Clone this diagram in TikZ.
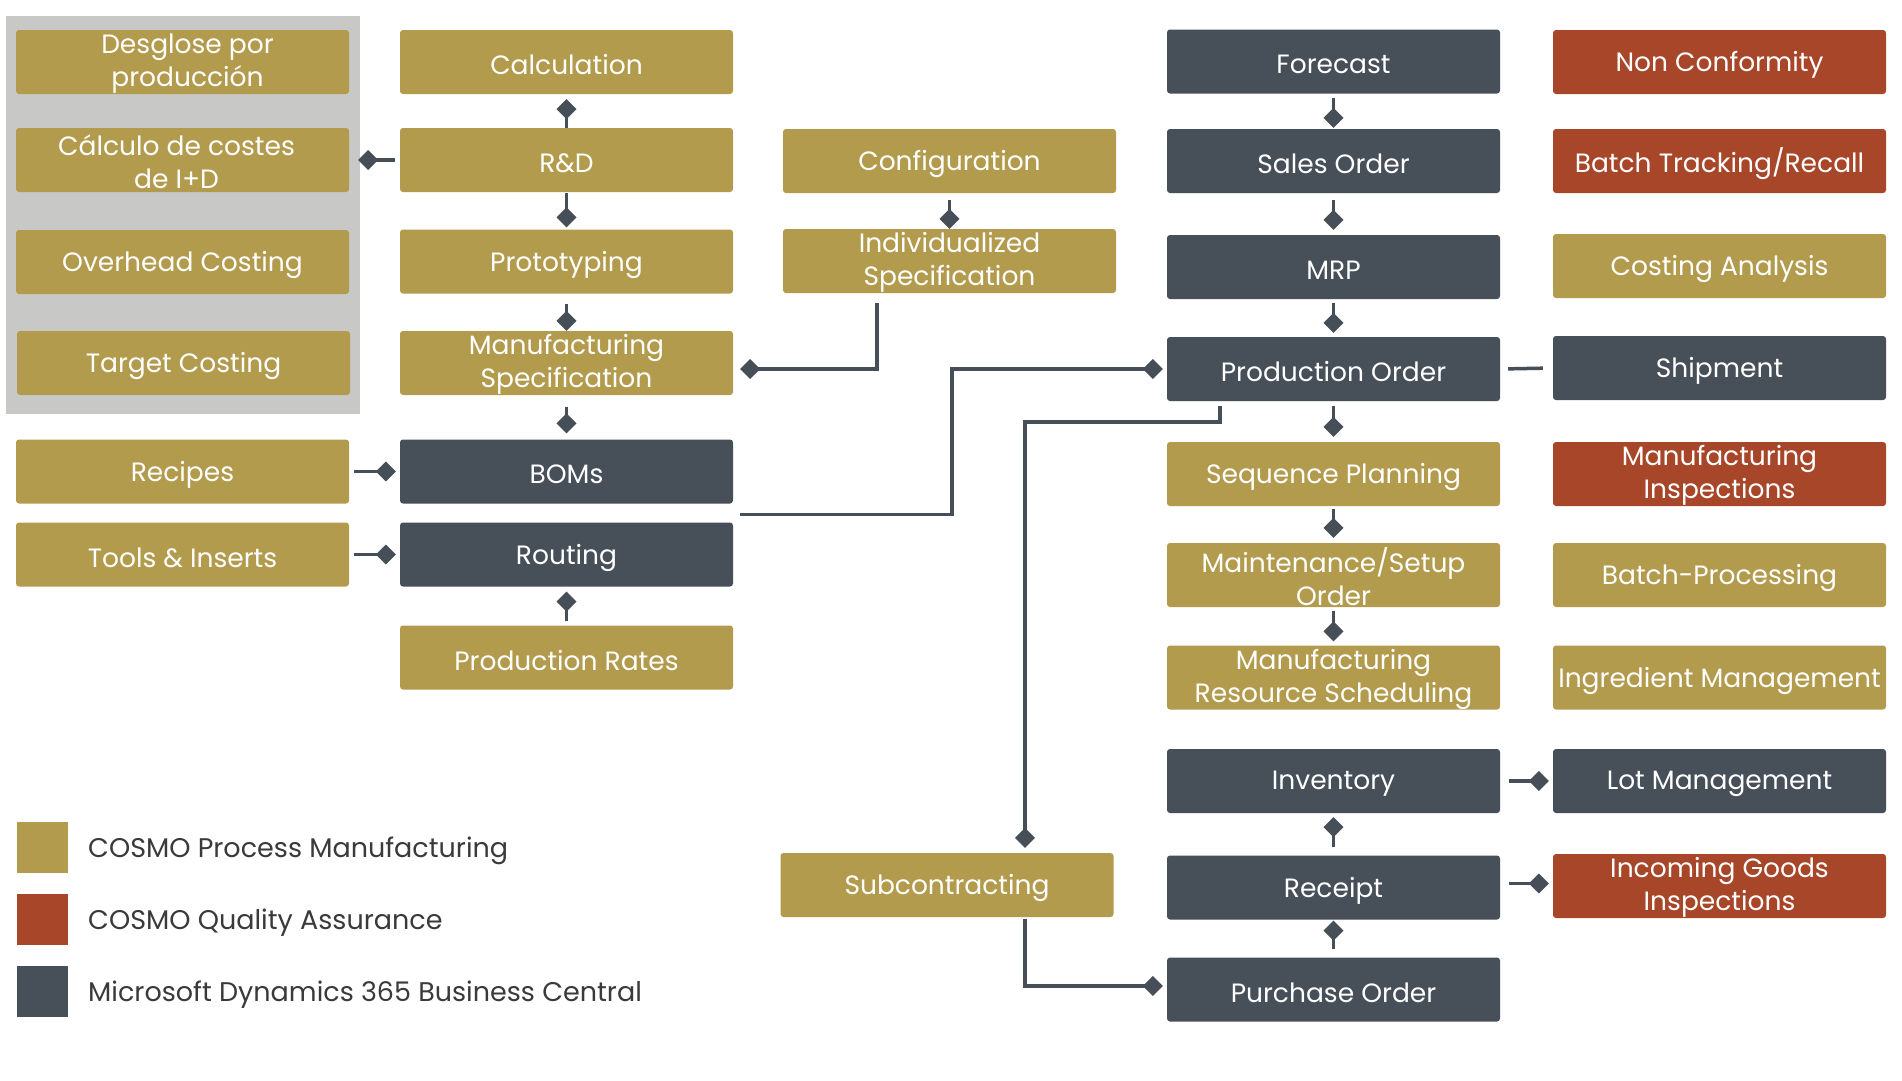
\documentclass[tikz,border=0pt]{standalone}
\usepackage{fontspec}
\setmainfont{Poppins}
\usetikzlibrary{arrows.meta,calc}
\definecolor{gold}{HTML}{B39B4E}
\definecolor{slate}{HTML}{474F59}
\definecolor{rust}{HTML}{A84629}
\definecolor{panel}{HTML}{C8C9C6}
\definecolor{conncol}{HTML}{464E58}
\definecolor{legtext}{HTML}{3A3A3A}
\begin{document}
\begin{tikzpicture}[x=1pt,y=-1pt,
  boxtext/.style={text=white, font=\fontsize{26.5}{33}\selectfont, align=center, inner sep=0pt},
  boxbase/.style={rectangle, rounded corners=3pt, minimum width=333pt, minimum height=64pt, inner sep=0pt},
  box/.style={boxbase, label={[boxtext, yshift=-3pt]center:#1}},
  boxtwo/.style={boxbase, label={[boxtext, yshift=-1.5pt]center:#1}},
  boxtwos/.style 2 args={boxbase, label={[boxtext, xshift=#2, yshift=-1.5pt]center:#1}},
  pm/.style={box={#1}, fill=gold},
  qa/.style={box={#1}, fill=rust},
  bc/.style={box={#1}, fill=slate},
  pmtwo/.style={boxtwo={#1}, fill=gold},
  pmtwos/.style 2 args={boxtwos={#1}{#2}, fill=gold},
  qatwo/.style={boxtwo={#1}, fill=rust},
  conn/.style={draw=conncol, line width=3.5pt, -{Diamond[length=20pt,width=20pt]}},
  plainline/.style={draw=conncol, line width=3.5pt},
  legsq/.style={fill=#1, draw=none, minimum size=51pt, inner sep=0pt},
  legtxt/.style={anchor=west, text=legtext, font=\fontsize{27}{30}\selectfont, inner sep=0pt}
]
\useasboundingbox[fill=white] (0,0) rectangle (1902,1080);
\fill[panel] (6,16) rectangle (360,414);

% column 1
\node[pmtwos={Desglose por\\producción}{5pt}] (desglose) at (182.5,62) {};
\node[pmtwos={Cálculo de costes\\de I+D}{-6pt}] (calcid) at (182.5,160) {};
\node[pm={Overhead Costing}] (overhead) at (182.5,262) {};
\node[pm={Target Costing}] (target) at (183.5,363) {};
\node[pm={Recipes}] (recipes) at (182.5,471.5) {};
\node[pm={Tools \& Inserts}] (tools) at (182.5,554.5) {};

% column 2
\node[pm={Calculation}] (calc) at (566.5,62) {};
\node[pm={R\&D}] (rd) at (566.5,160) {};
\node[pm={Prototyping}] (proto) at (566.5,261.5) {};
\node[pmtwo={Manufacturing\\Specification}] (mspec) at (566.5,363) {};
\node[bc={BOMs}] (boms) at (566.5,471.5) {};
\node[bc={Routing}] (routing) at (566.5,554.5) {};
\node[pm={Production Rates}] (prates) at (566.5,657.5) {};

% column 3
\node[pm={Configuration}] (config) at (949.5,161) {};
\node[pmtwo={Individualized\\Specification}] (indiv) at (949.5,261) {};
\node[pm={Subcontracting}] (sub) at (947,885) {};

% column 4
\node[bc={Forecast}] (fore) at (1333.5,61.5) {};
\node[bc={Sales Order}] (sales) at (1333.5,161) {};
\node[bc={MRP}] (mrp) at (1333.5,267) {};
\node[bc={Production Order}] (po) at (1333.5,369) {};
\node[pm={Sequence Planning}] (seq) at (1333.5,474) {};
\node[pmtwo={Maintenance/Setup\\Order}] (maint) at (1333.5,575) {};
\node[pmtwo={Manufacturing\\Resource Scheduling}] (mrs) at (1333.5,677.5) {};
\node[bc={Inventory}] (inv) at (1333.5,781) {};
\node[bc={Receipt}] (receipt) at (1333.5,887.5) {};
\node[bc={Purchase Order}] (purch) at (1333.5,989.5) {};

% column 5
\node[qa={Non Conformity}] (nonconf) at (1719.5,62) {};
\node[qa={Batch Tracking/Recall}] (batchtr) at (1719.5,161) {};
\node[pm={Costing Analysis}] (costan) at (1719.5,266) {};
\node[bc={Shipment}] (ship) at (1719.5,368) {};
\node[qatwo={Manufacturing\\Inspections}] (minsp) at (1719.5,474) {};
\node[pm={Batch-Processing}] (batchpr) at (1719.5,575) {};
\node[pm={Ingredient Management}] (ingr) at (1719.5,677.5) {};
\node[bc={Lot Management}] (lot) at (1719.5,781) {};
\node[qatwo={Incoming Goods\\Inspections}] (ig) at (1719.5,886) {};

% legend
\node[legsq=gold] (lg1) at (42.5,847.5) {};
\node[legsq=rust] (lg2) at (42.5,919.5) {};
\node[legsq=slate] (lg3) at (42.5,991.5) {};
\node[legtxt] (lt1) at (88,850.5) {COSMO Process Manufacturing};
\node[legtxt] (lt2) at (88,922.5) {COSMO Quality Assurance};
\node[legtxt] (lt3) at (88,994.5) {Microsoft Dynamics 365 Business Central};

% connectors column 2
\draw[conn, shorten >=5pt] (rd.north) -- (calc.south);
\draw[conn, shorten <=5pt, shorten >=9pt] (rd.west) -- (calcid.east);
\draw[conn, shorten <=1pt, shorten >=2pt] (rd.south) -- (proto.north);
\draw[conn, shorten <=10pt] (proto.south) -- (mspec.north);
\draw[conn, shorten <=12pt, shorten >=6pt] (mspec.south) -- (boms.north);
\draw[conn, shorten <=5pt, shorten >=4pt] (recipes.east) -- (boms.west);
\draw[conn, shorten <=5pt, shorten >=4pt] (tools.east) -- (routing.west);
\draw[conn, shorten <=4pt, shorten >=5pt] (prates.north) -- (routing.south);

% column 3
\draw[conn, shorten <=7pt] (config.south) -- (indiv.north);
\draw[conn, shorten <=10pt, shorten >=7pt] ([xshift=-72.5pt]indiv.south) |- ([yshift=-6pt]mspec.east);
\draw[conn, shorten >=4pt] ([shift={(7pt,-11pt)}]boms.south east) -| ($(po.west)+(-215,0)$) -- (po.west);
\draw[conn, shorten >=5pt] ([shift={(53pt,-5pt)}]po.south west) -- ++(0,16) -| ([xshift=78pt]sub.north);
\draw[conn, shorten <=2pt, shorten >=4pt] ([xshift=78pt]sub.south) |- ([yshift=3.5pt]purch.west);

% column 4
\draw[conn, shorten <=4pt, shorten >=1pt] (fore.south) -- (sales.north);
\draw[conn, shorten <=7pt, shorten >=5pt] (sales.south) -- (mrp.north);
\draw[conn, shorten <=4pt, shorten >=4pt] (mrp.south) -- (po.north);
\draw[conn, shorten <=5pt, shorten >=5pt] (po.south) -- (seq.north);
\draw[conn, shorten <=3pt, shorten >=5pt] (seq.south) -- (maint.north);
\draw[conn, shorten <=4pt, shorten >=4pt] (maint.south) -- (mrs.north);
\draw[conn, shorten <=8pt, shorten >=4pt] (receipt.north) -- (inv.south);
\draw[conn, shorten <=8pt, shorten >=1pt] (purch.north) -- (receipt.south);
\draw[plainline, shorten <=8pt, shorten >=10pt] (po.east) -- (ship.west);
\draw[conn, shorten <=9pt, shorten >=4pt] (inv.east) -- (lot.west);
\draw[conn, shorten <=9pt, shorten >=4pt] ([yshift=4pt]receipt.east) -- ([yshift=4pt]receipt.east -| ig.west);
\end{tikzpicture}
\end{document}
